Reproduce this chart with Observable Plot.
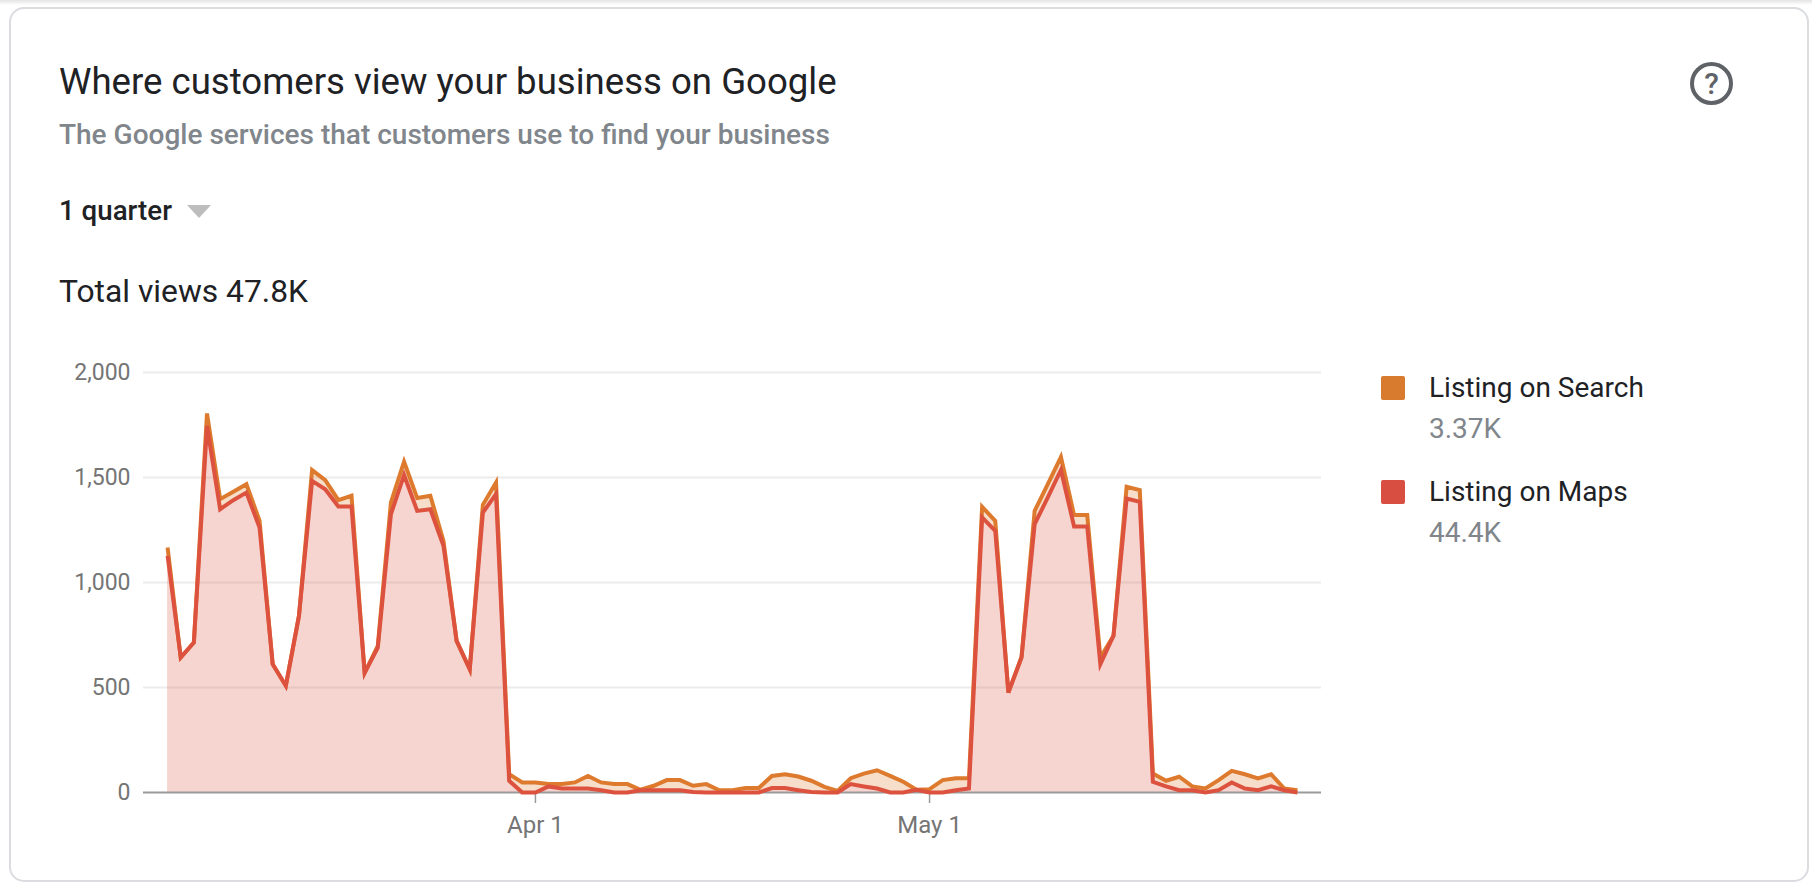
<!DOCTYPE html>
<html>
<head>
<meta charset="utf-8">
<script src="https://cdn.jsdelivr.net/npm/d3@7"></script>
<script src="https://cdn.jsdelivr.net/npm/@observablehq/plot@0.6"></script>
<style>
  html, body { margin:0; padding:0; background:#fff; width:1812px; height:882px; overflow:hidden; font-family:Roboto, sans-serif; }
  #topstrip { position:absolute; left:0; top:0; width:1812px; height:5px; background:linear-gradient(#e4e4e4,#fff); }
  #card { position:absolute; left:9px; top:7px; width:1796px; height:871px; border:2px solid #dadce0; border-radius:15px; box-sizing:content-box; }
  .t { position:absolute; white-space:nowrap; line-height:1; }
  #title { left:59px; top:64px; font-size:36.6px; color:#202124; }
  #sub { left:59px; top:121px; font-size:28px; font-weight:500; color:#80868b; }
  #range { left:59px; top:197px; font-size:27.7px; font-weight:500; color:#202124; }
  #caret { position:absolute; left:187px; top:205px; width:0; height:0; border-left:12px solid transparent; border-right:12px solid transparent; border-top:13px solid #bdbdbd; }
  #total { left:59px; top:276px; font-size:31.8px; color:#202124; }
  .sw { position:absolute; left:1381px; width:24px; height:24px; border-radius:2px; }
  .ln { left:1429px; font-size:28px; color:#202124; }
  .vl { left:1429px; font-size:28px; color:#80868b; }
  #help { position:absolute; left:1690px; top:62px; width:43px; height:43px; box-sizing:border-box; border:4px solid #5f6368; border-radius:50%; text-align:center; font-size:30px; font-weight:500; line-height:35px; color:#5f6368; }
  #chart { position:absolute; left:0; top:340px; }
  #chart svg { display:block; }
</style>
</head>
<body>
<div id="topstrip"></div>
<div id="card"></div>
<div class="t" id="title">Where customers view your business on Google</div>
<div class="t" id="sub">The Google services that customers use to find your business</div>
<div class="t" id="range">1 quarter</div><div id="caret"></div>
<div class="t" id="total">Total views 47.8K</div>
<div id="help">?</div>
<div id="chart"></div>
<div class="sw" style="top:376px;background:#d97b2f"></div>
<div class="t ln" style="top:374px">Listing on Search</div>
<div class="t vl" style="top:415px">3.37K</div>
<div class="sw" style="top:480px;background:#d84f41"></div>
<div class="t ln" style="top:478px">Listing on Maps</div>
<div class="t vl" style="top:519px">44.4K</div>
<script>
const firstDay = "2021-03-04";
// Top of the stack (line labelled Listing on Search), one value a day
const searchLine = [1167,643,714,1805,1397,1432,1468,1294,611,508,841,1535,1487,1392,1413,570,698,1381,1575,1402,1413,1198,722,587,1370,1476,
  87,48,48,40,40,48,79,48,40,40,13,32,59,59,32,40,11,11,21,21,79,87,76,56,27,8,68,90,106,79,51,13,16,59,68,68,
  1360,1294,476,646,1341,1468,1597,1321,1321,643,746,1456,1440,90,56,75,29,19,59,103,87,67,87,19,11];
// Line labelled Listing on Maps
const mapsLine = [1127,643,714,1746,1349,1392,1428,1262,611,508,841,1484,1444,1362,1362,570,690,1325,1512,1341,1349,1175,722,587,1333,1421,
  56,0,0,29,19,19,19,11,0,0,11,11,11,11,2,0,0,0,0,0,21,21,11,2,0,0,40,29,19,0,0,13,0,0,11,19,
  1310,1246,476,643,1278,1405,1536,1267,1267,611,746,1400,1384,51,29,11,11,0,11,48,19,11,29,11,0];
const yTicks = [0,500,1000,1500,2000];
const xTicks = ["2021-04-01","2021-05-01"];
const seriesColors = {search:"#dd7a2d", maps:"#dc523f"};

const start = new Date(firstDay);
const rows = searchLine.map((s,i)=>({date:d3.utcDay.offset(start,i), search:s, maps:mapsLine[i]}));

const svg = Plot.plot({
  width:1340, height:510,
  marginLeft:143, marginRight:19, marginTop:32, marginBottom:58,
  style:{fontFamily:"Roboto, sans-serif", fontSize:"22px", background:"transparent"},
  x:{type:"utc", domain:[new Date("2021-03-02T04:00:00Z"), new Date("2021-05-30T20:00:00Z")], axis:null},
  y:{domain:[0,2000], axis:null},
  marks:[
    Plot.ruleY(yTicks.slice(1),{stroke:"#ececec",strokeWidth:2}),
    Plot.areaY(rows,{x:"date",y1:"maps",y2:"search",fill:seriesColors.search,fillOpacity:0.25}),
    Plot.areaY(rows,{x:"date",y1:0,y2:"maps",fill:seriesColors.maps,fillOpacity:0.25}),
    Plot.ruleY([0],{stroke:"#9a9a9a",strokeWidth:2}),
    Plot.axisX({ticks:xTicks.map(d=>new Date(d)),tickFormat:d3.utcFormat("%b %-d"),tickSize:11,tickPadding:12,stroke:"#9a9a9a",fill:"#757575",fontSize:24,strokeWidth:1.5,label:null}),
    Plot.axisY({ticks:yTicks,tickFormat:d3.format(","),tickSize:0,tickPadding:13,fill:"#757575",fontSize:23,label:null}),
    Plot.lineY(rows,{x:"date",y:"search",stroke:seriesColors.search,strokeWidth:4,strokeLinejoin:"miter",strokeLinecap:"butt",strokeMiterlimit:4}),
    Plot.lineY(rows,{x:"date",y:"maps",stroke:seriesColors.maps,strokeWidth:4,strokeLinejoin:"miter",strokeLinecap:"butt",strokeMiterlimit:4})
  ]
});
document.getElementById("chart").appendChild(svg);
</script>
</body>
</html>
